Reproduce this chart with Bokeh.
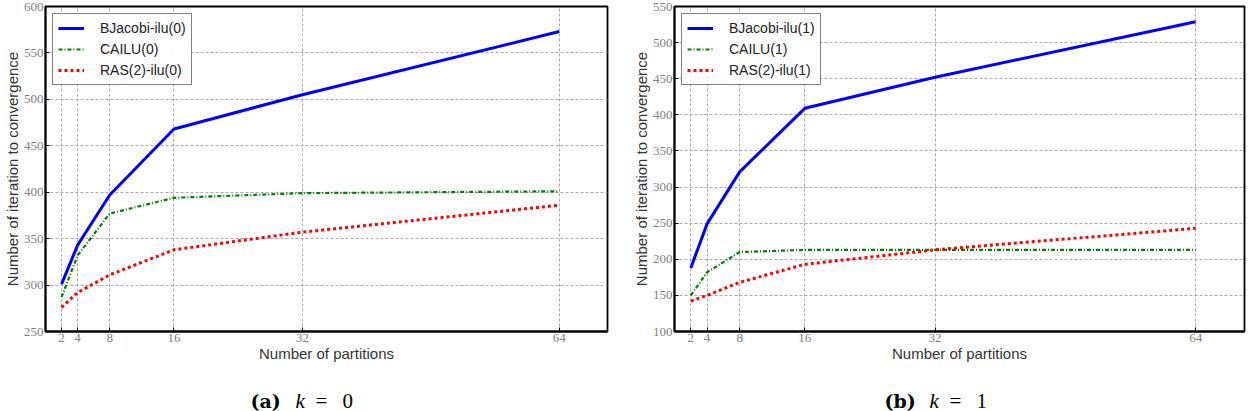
from bokeh.plotting import figure
from bokeh.layouts import row, column
from bokeh.models import FixedTicker, Legend, LegendItem
from bokeh.core.properties import value
from bokeh.embed import file_html
from bokeh.resources import INLINE

partitions = [2, 4, 8, 16, 32, 64]

# k = 0
bjacobi0 = [301, 343, 397, 468, 505, 573]
cailu0 = [287, 332, 377, 394, 399, 401]
ras0 = [276, 292, 311, 338, 357, 386]

# k = 1
bjacobi1 = [188, 249, 321, 409, 452, 529]
cailu1 = [150, 182, 210, 213, 213, 213]
ras1 = [142, 150, 168, 193, 213, 243]

y_ticks0 = [250, 300, 350, 400, 450, 500, 550, 600]
y_ticks1 = [100, 150, 200, 250, 300, 350, 400, 450, 500, 550]

captions_letter = ["(a)", "(b)"]
captions_k = ["0", "1"]

SERIF = "Liberation Serif"
CAPSERIF = "DejaVu Serif"
SANS = "Liberation Sans"


def make_panel(bj, ca, ra, names, yticks, bl, br):
    p = figure(width=624, height=369, output_backend="svg", toolbar_location=None,
               x_range=(0, 70), y_range=(yticks[0], yticks[-1]),
               min_border_left=bl, min_border_right=br, min_border_top=6, min_border_bottom=38)
    p.outline_line_color = "black"
    p.outline_line_width = 1.8
    p.outline_line_alpha = 1
    p.background_fill_color = "white"
    p.border_fill_color = "white"

    r1 = p.line(partitions, bj, line_color="#0000ff", line_width=3)
    r2 = p.line(partitions, ca, line_color="#008000", line_width=2.2, line_dash="4 2 1 2")
    r3 = p.line(partitions, ra, line_color="#ff0000", line_width=3, line_dash="3 3")

    p.xaxis.ticker = FixedTicker(ticks=partitions)
    p.yaxis.ticker = FixedTicker(ticks=yticks)
    p.xaxis.axis_label = "Number of partitions"
    p.yaxis.axis_label = "Number of iteration to convergence"
    for ax in (p.xaxis[0], p.yaxis[0]):
        ax.axis_line_color = "black"
        ax.axis_line_width = 1.8
        ax.major_tick_in = 4
        ax.major_tick_out = 0
        ax.minor_tick_line_color = None
        ax.major_label_text_font = SERIF
        ax.major_label_text_font_size = "13px"
        ax.major_label_text_color = "#808080"
        ax.major_label_standoff = 2
        ax.axis_label_text_font = SANS
        ax.axis_label_text_font_size = "15px"
        ax.axis_label_text_font_style = "normal"
        ax.axis_label_text_color = "#333333"
        ax.axis_label_standoff = 0

    for g in (p.xgrid[0], p.ygrid[0]):
        g.grid_line_color = "#aaaaaa"
        g.grid_line_dash = "3 2"
        g.grid_line_width = 1

    legend = Legend(items=[LegendItem(label=names[0], renderers=[r1]),
                           LegendItem(label=names[1], renderers=[r2]),
                           LegendItem(label=names[2], renderers=[r3])],
                    location="top_left")
    legend.border_line_color = "black"
    legend.border_line_width = 1.3
    legend.label_text_font = SANS
    legend.label_text_font_size = "14px"
    legend.label_text_color = "#222222"
    legend.glyph_width = 26
    legend.glyph_height = 18
    legend.label_height = 18
    legend.spacing = 3
    legend.padding = 5
    legend.margin = 7
    legend.label_standoff = 16
    p.add_layout(legend)
    return p


p1 = make_panel(bjacobi0, cailu0, ras0, ["BJacobi-ilu(0)", "CAILU(0)", "RAS(2)-ilu(0)"],
                y_ticks0, 38, 17)
p2 = make_panel(bjacobi1, cailu1, ras1, ["BJacobi-ilu(1)", "CAILU(1)", "RAS(2)-ilu(1)"],
                y_ticks1, 50, 4)

# caption strip (pixel coordinates of the page width)
cap = figure(width=1248, height=42, output_backend="svg", toolbar_location=None,
             x_range=(0, 1248), y_range=(0, 42), min_border=0)
cap.axis.visible = False
cap.grid.visible = False
cap.outline_line_color = None
cap.border_fill_color = "white"
cap_x0 = [250, 884]
cap_y = [11, 11]
cap.text(x=cap_x0, y=cap_y, text=captions_letter, text_font=value(CAPSERIF),
         text_font_style="bold", text_font_size="19px", text_baseline="alphabetic",
         text_color="black")
cap.text(x=[x + 45 for x in cap_x0], y=cap_y, text=["k", "k"], text_font=value(SERIF),
         text_font_style="italic", text_font_size="21px", text_baseline="alphabetic",
         text_color="black")
cap.text(x=[x + 65 for x in cap_x0], y=cap_y, text=["=", "="], text_font=value(SERIF),
         text_font_size="21px", text_baseline="alphabetic", text_color="black")
cap.text(x=[x + 92 for x in cap_x0], y=cap_y, text=captions_k, text_font=value(SERIF),
         text_font_size="21px", text_baseline="alphabetic", text_color="black")

layout = column(row(p1, p2), cap)
open("out.html", "w").write(file_html(layout, INLINE))
